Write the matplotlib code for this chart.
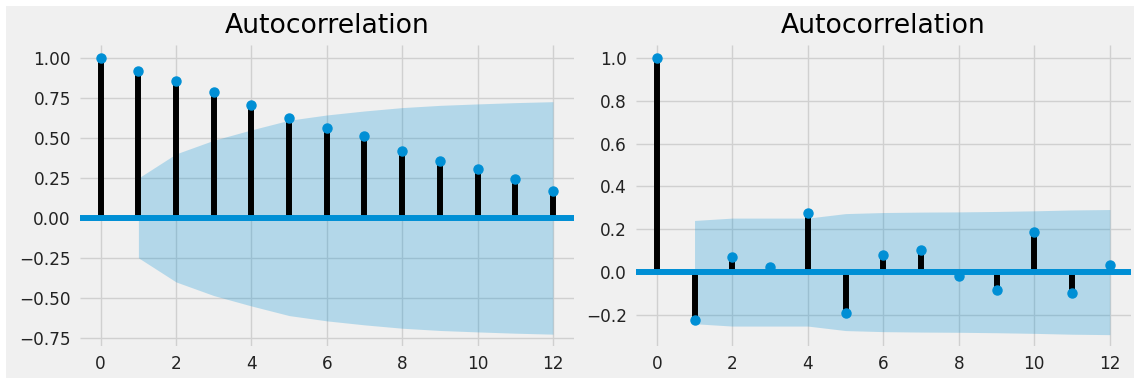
import numpy as np
import matplotlib
matplotlib.use('Agg')
import matplotlib.pyplot as plt
from matplotlib.patches import Rectangle

plt.style.use('fivethirtyeight')

# lags and autocorrelation values
lags = np.arange(13)
acf_left = [1.0, 0.919, 0.853, 0.786, 0.705, 0.627, 0.56, 0.51, 0.421, 0.355, 0.307, 0.241, 0.168]
acf_right = [1.0, -0.222, 0.071, 0.023, 0.275, -0.191, 0.078, 0.102, -0.02, -0.082, 0.188, -0.099, 0.031]

# half width of the 95% confidence band for lags 1..12
band_left = [0.249, 0.40, 0.485, 0.55, 0.61, 0.643, 0.668, 0.689, 0.703, 0.712, 0.72, 0.726]
band_right = [0.241, 0.252, 0.252, 0.252, 0.273, 0.278, 0.28, 0.281, 0.283, 0.286, 0.29, 0.292]

ylims = [(-0.80, 1.08), (-0.345, 1.06)]
yticks = [np.arange(-0.75, 1.01, 0.25), np.arange(-0.2, 1.01, 0.2)]
yfmt = ['{:.2f}', '{:.1f}']

fig = plt.figure(figsize=(11.34, 3.78), dpi=100, facecolor='white')
# gray figure area with a thin white border top/left
fig.patches.append(Rectangle((6 / 1134, 0), 1 - 6 / 1134, 1 - 6 / 378,
                             transform=fig.transFigure, facecolor='#f0f0f0',
                             edgecolor='none', zorder=-10))

ax1 = fig.add_axes([80 / 1134, 1 - 346 / 378, 494 / 1134, 301 / 378])
ax2 = fig.add_axes([636 / 1134, 1 - 346 / 378, 495 / 1134, 301 / 378])

for i, (ax, acf, band) in enumerate([(ax1, acf_left, band_left), (ax2, acf_right, band_right)]):
    ax.vlines(lags, [0], acf, color='black', linewidth=4.3)
    ax.plot(lags, acf, 'o', color='#008fd5', markersize=6.5)
    ax.axhline(0, color='#008fd5', linewidth=4.3)
    b = np.array(band)
    ax.fill_between(lags[1:], -b, b, color='#008fd5', alpha=0.25, linewidth=0)
    ax.set_xlim(-0.55, 12.56)
    ax.set_ylim(*ylims[i])
    ax.set_xticks(range(0, 13, 2))
    ax.set_yticks(yticks[i])
    ax.set_yticklabels([yfmt[i].format(v).replace('-', '\u2212') for v in yticks[i]])
    ax.tick_params(axis='both', labelsize=12.2, pad=6.5, colors='#222222')
    ax.grid(color='#d0d0d0', linewidth=1.0)
    ax.set_title('Autocorrelation', fontsize=19.2, pad=8.6)
    for s in ax.spines.values():
        s.set_visible(False)

fig.savefig('out.png', dpi=100, facecolor='white')
